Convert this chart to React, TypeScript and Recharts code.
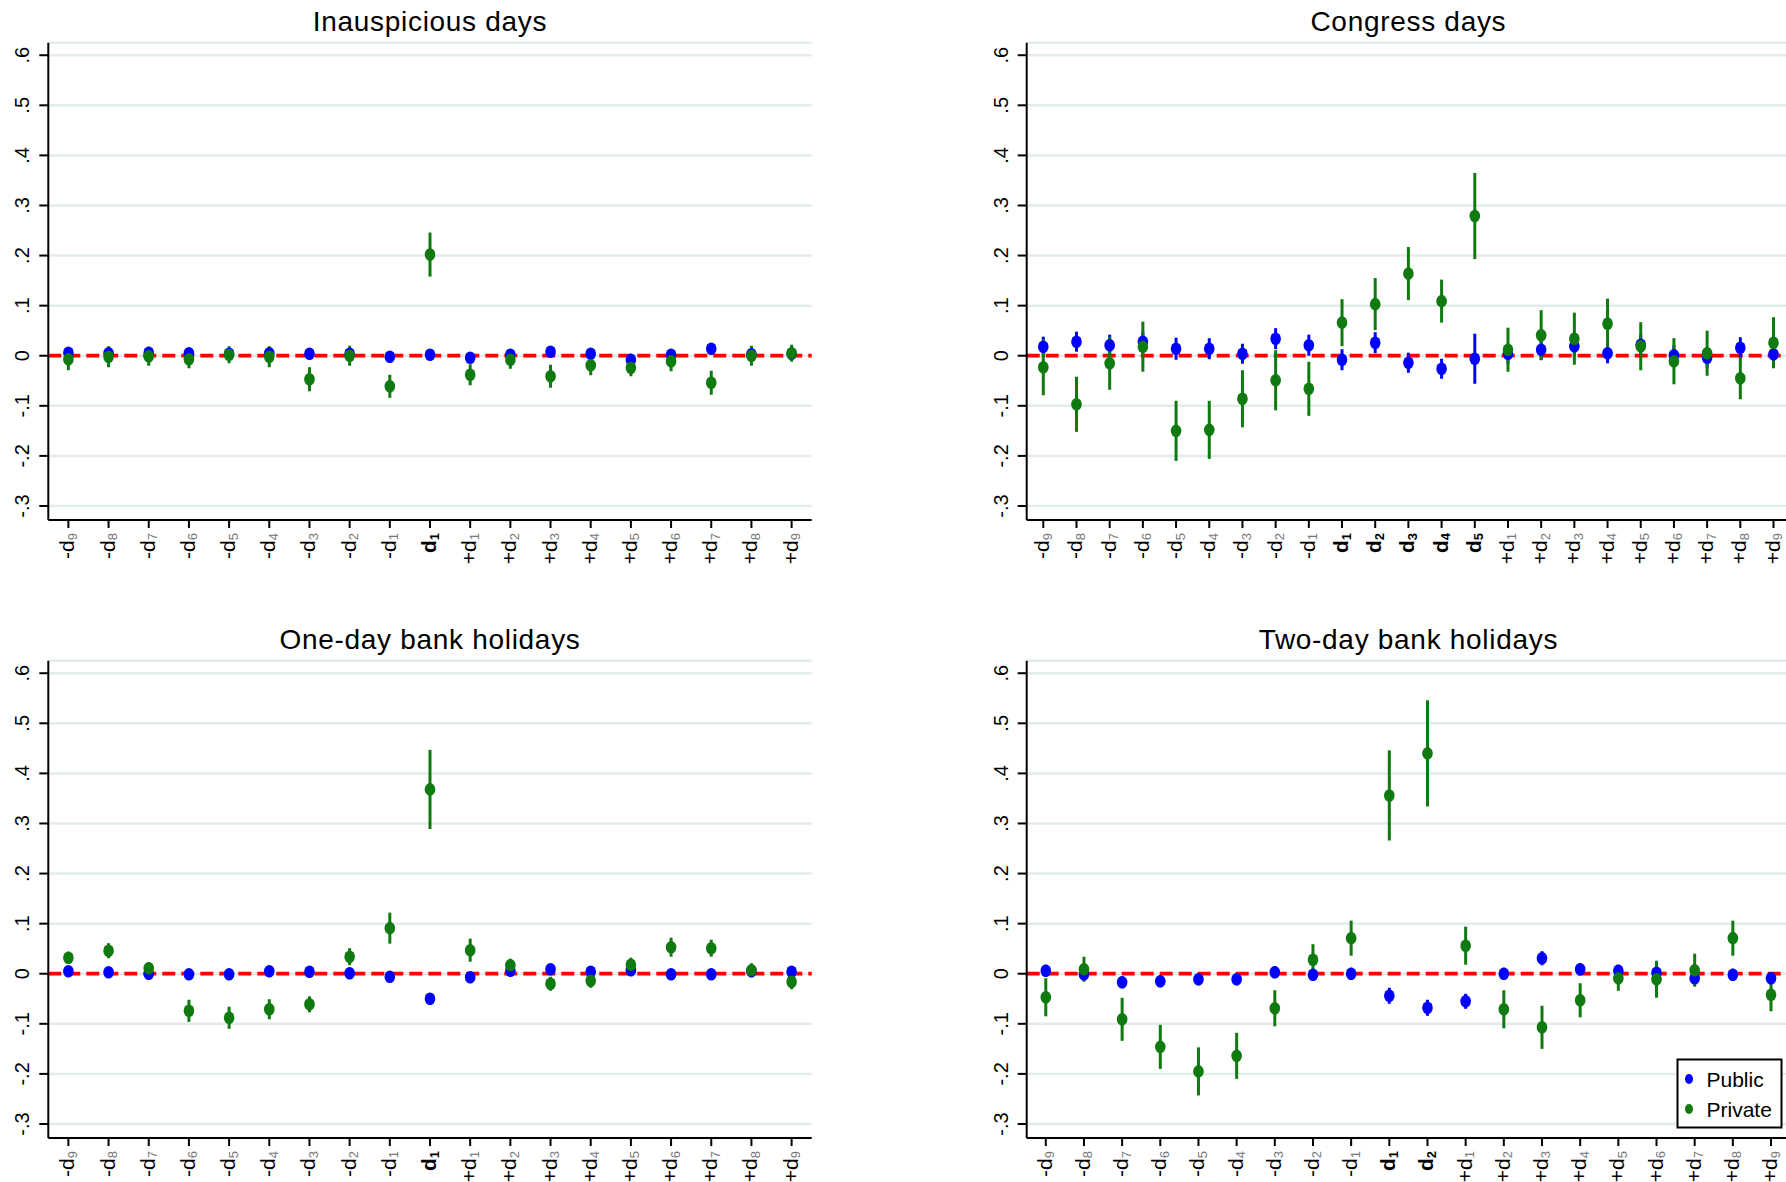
import React from 'react';
import { ScatterChart, Scatter, XAxis, YAxis, CartesianGrid, ReferenceLine, ErrorBar } from 'recharts';

// Day labels around each event window
const preDays = ['-d9', '-d8', '-d7', '-d6', '-d5', '-d4', '-d3', '-d2', '-d1'];
const postDays = ['+d1', '+d2', '+d3', '+d4', '+d5', '+d6', '+d7', '+d8', '+d9'];
const inauspiciousLabels = [...preDays, 'd1', ...postDays];
const congressLabels = [...preDays, 'd1', 'd2', 'd3', 'd4', 'd5', ...postDays];
const oneDayLabels = [...preDays, 'd1', ...postDays];
const twoDayLabels = [...preDays, 'd1', 'd2', ...postDays];

const yTicks = [-0.3, -0.2, -0.1, 0, 0.1, 0.2, 0.3, 0.4, 0.5, 0.6];
const yTickLabels = ['-.3', '-.2', '-.1', '0', '.1', '.2', '.3', '.4', '.5', '.6'];

// Inauspicious days
const inauspiciousPublic = [0.006, 0.005, 0.006, 0.005, 0.004, 0.005, 0.004, 0.004, -0.002, 0.002, -0.004, 0.002, 0.008, 0.004, -0.008, 0.002, 0.014, 0.003, 0.004];
const inauspiciousPublicCI = [0.007, 0.006, 0.006, 0.006, 0.006, 0.007, 0.006, 0.006, 0.006, 0.005, 0.006, 0.006, 0.006, 0.006, 0.006, 0.006, 0.006, 0.006, 0.007];
const inauspiciousPrivate = [-0.007, -0.002, -0.001, -0.007, 0.002, -0.002, -0.047, 0.0, -0.061, 0.202, -0.038, -0.008, -0.041, -0.019, -0.024, -0.011, -0.054, 0.0, 0.005];
const inauspiciousPrivateCI = [0.022, 0.021, 0.019, 0.018, 0.017, 0.021, 0.024, 0.02, 0.023, 0.044, 0.021, 0.018, 0.023, 0.02, 0.017, 0.02, 0.024, 0.02, 0.017];

// Congress days
const congressPublic = [0.018, 0.028, 0.021, 0.028, 0.014, 0.014, 0.004, 0.034, 0.021, -0.008, 0.026, -0.014, -0.026, -0.006, 0.004, 0.012, 0.019, 0.005, 0.022, 0.001, -0.004, 0.016, 0.003];
const congressPublicCI = [0.02, 0.02, 0.021, 0.02, 0.022, 0.021, 0.02, 0.021, 0.021, 0.021, 0.021, 0.02, 0.02, 0.05, 0.02, 0.02, 0.02, 0.02, 0.02, 0.02, 0.02, 0.021, 0.02];
const congressPrivate = [-0.023, -0.097, -0.015, 0.018, -0.15, -0.148, -0.086, -0.049, -0.066, 0.066, 0.103, 0.164, 0.109, 0.279, 0.012, 0.041, 0.034, 0.064, 0.019, -0.011, 0.005, -0.045, 0.026];
const congressPrivateCI = [0.056, 0.055, 0.053, 0.05, 0.06, 0.058, 0.057, 0.06, 0.054, 0.047, 0.052, 0.053, 0.043, 0.086, 0.044, 0.05, 0.052, 0.05, 0.048, 0.046, 0.045, 0.042, 0.051];

// One-day bank holidays
const oneDayPublic = [0.005, 0.003, 0.0, -0.001, -0.001, 0.005, 0.004, 0.001, -0.006, -0.05, -0.007, 0.006, 0.009, 0.004, 0.007, -0.001, -0.001, 0.005, 0.004];
const oneDayPublicCI = [0.005, 0.005, 0.005, 0.005, 0.005, 0.005, 0.005, 0.005, 0.005, 0.006, 0.005, 0.005, 0.005, 0.005, 0.005, 0.005, 0.005, 0.005, 0.005];
const oneDayPrivate = [0.032, 0.046, 0.011, -0.074, -0.088, -0.071, -0.061, 0.034, 0.091, 0.368, 0.047, 0.017, -0.02, -0.014, 0.018, 0.053, 0.051, 0.007, -0.016];
const oneDayPrivateCI = [0.012, 0.015, 0.012, 0.022, 0.022, 0.02, 0.016, 0.017, 0.031, 0.079, 0.023, 0.013, 0.014, 0.014, 0.014, 0.019, 0.017, 0.014, 0.015];

// Two-day bank holidays
const twoDayPublic = [0.006, -0.001, -0.017, -0.015, -0.011, -0.011, 0.003, -0.002, 0.0, -0.044, -0.068, -0.055, 0.0, 0.031, 0.009, 0.006, 0.002, -0.009, -0.002, -0.009];
const twoDayPublicCI = [0.012, 0.012, 0.012, 0.012, 0.012, 0.012, 0.012, 0.012, 0.012, 0.016, 0.016, 0.015, 0.012, 0.014, 0.012, 0.012, 0.012, 0.012, 0.012, 0.012];
const twoDayPrivate = [-0.047, 0.009, -0.091, -0.146, -0.195, -0.164, -0.069, 0.028, 0.071, 0.356, 0.44, 0.056, -0.071, -0.107, -0.053, -0.009, -0.011, 0.007, 0.071, -0.042];
const twoDayPrivateCI = [0.038, 0.025, 0.043, 0.044, 0.048, 0.046, 0.036, 0.031, 0.035, 0.09, 0.106, 0.038, 0.038, 0.043, 0.034, 0.025, 0.037, 0.033, 0.035, 0.033];

const FONT = '"Liberation Sans", Arial, Helvetica, sans-serif';
const BLUE = '#0000ff';
const GREEN = '#0f7a0f';
const RED = '#ff0000';
const GRID = '#e3ebeb';

const toPoints = (vals: number[], ci: number[]) => vals.map((v, i) => ({ x: i, y: v, e: ci[i] }));

const makeDot = (color: string) => (p: any) => (
  <ellipse cx={p.cx} cy={p.cy} rx={5.3} ry={6.3} fill={color} />
);

// Rotated day label: sign, "d" and a subscript day number; event days in bold
const XTick = (props: any) => {
  const { x, y, payload, labels } = props;
  const lab: string = labels[payload.value] ?? '';
  const m = /^([+-]?)d(\d)$/.exec(lab);
  if (!m) return null;
  const sign = m[1];
  const num = m[2];
  const bold = sign === '';
  return (
    <g transform={`translate(${x},${y})`}>
      <text
        transform="rotate(-90)"
        x={-5}
        y={6}
        textAnchor="end"
        fontFamily={FONT}
        fontSize={21}
        fontWeight={bold ? 'bold' : 'normal'}
        fill="#000"
      >
        {sign}d
        <tspan fontSize={13} dy={2.5} fill={bold ? '#000' : '#777'}>{num}</tspan>
      </text>
    </g>
  );
};

const YTick = (props: any) => {
  const { x, y, payload } = props;
  const idx = yTicks.findIndex((t) => Math.abs(t - payload.value) < 1e-9);
  return (
    <text
      transform={`translate(${x - 10},${y}) rotate(-90)`}
      textAnchor="middle"
      fontFamily={FONT}
      fontSize={20}
      fill="#000"
    >
      {idx >= 0 ? yTickLabels[idx] : ''}
    </text>
  );
};

type PanelProps = {
  title: string;
  labels: string[];
  pub: number[];
  pubCI: number[];
  priv: number[];
  privCI: number[];
  left: number;
  top: number;
  plotLeft: number;
};

const CHART_W = 830;
const CHART_H = 600;
const PLOT_TOP = 42.7;
const PLOT_BOTTOM = 520;
const PLOT_W = 763.4;

const Panel = ({ title, labels, pub, pubCI, priv, privCI, left, top, plotLeft }: PanelProps) => {
  const n = labels.length;
  const idx = labels.map((_, i) => i);
  const axisStyle = { stroke: '#000', strokeWidth: 2 };
  return (
    <div style={{ position: 'absolute', left, top, width: CHART_W, height: CHART_H }}>
      <div
        style={{
          position: 'absolute',
          left: plotLeft + PLOT_W / 2 - 300,
          top: 8,
          width: 600,
          textAlign: 'center',
          fontFamily: FONT,
          fontSize: 28,
          lineHeight: '28px',
          letterSpacing: '0.7px',
          color: '#000',
          whiteSpace: 'nowrap',
        }}
      >
        {title}
      </div>
      <ScatterChart
        width={CHART_W}
        height={CHART_H}
        margin={{ top: PLOT_TOP, left: 0, right: CHART_W - plotLeft - PLOT_W, bottom: 0 }}
      >
        <CartesianGrid horizontal vertical={false} stroke={GRID} strokeWidth={2.5} />
        <XAxis
          type="number"
          dataKey="x"
          domain={[-0.5, n - 0.5]}
          ticks={idx}
          interval={0}
          height={CHART_H - PLOT_BOTTOM}
          tickSize={8}
          tickMargin={0}
          axisLine={axisStyle}
          tickLine={axisStyle}
          tick={(p: any) => <XTick {...p} labels={labels} />}
          allowDataOverflow
        />
        <YAxis
          type="number"
          dataKey="y"
          domain={[-0.328, 0.625]}
          ticks={yTicks}
          interval={0}
          width={plotLeft}
          tickSize={9}
          tickMargin={0}
          axisLine={axisStyle}
          tickLine={axisStyle}
          tick={(p: any) => <YTick {...p} />}
          allowDataOverflow
        />
        <ReferenceLine y={0} stroke={RED} strokeWidth={3.8} strokeDasharray="13 6" />
        <Scatter name="Public" data={toPoints(pub, pubCI)} fill={BLUE} shape={makeDot(BLUE)} isAnimationActive={false}>
          <ErrorBar dataKey="e" direction="y" width={0} stroke={BLUE} strokeWidth={3} />
        </Scatter>
        <Scatter name="Private" data={toPoints(priv, privCI)} fill={GREEN} shape={makeDot(GREEN)} isAnimationActive={false}>
          <ErrorBar dataKey="e" direction="y" width={0} stroke={GREEN} strokeWidth={3} />
        </Scatter>
      </ScatterChart>
    </div>
  );
};

const LegendBox = () => (
  <svg style={{ position: 'absolute', left: 1676, top: 1058 }} width={108} height={72}>
    <rect x={1.5} y={1.5} width={104} height={68} fill="#fff" stroke="#000" strokeWidth={2} />
    <ellipse cx={13} cy={21} rx={4} ry={5} fill={BLUE} />
    <text x={30.5} y={28.7} fontFamily={FONT} fontSize={21} fill="#000">Public</text>
    <ellipse cx={13} cy={51} rx={4} ry={5} fill={GREEN} />
    <text x={30.5} y={59.3} fontFamily={FONT} fontSize={21} fill="#000">Private</text>
  </svg>
);

export default function App() {
  return (
    <div
      style={{
        position: 'absolute',
        left: 0,
        top: 0,
        width: 1786,
        height: 1182,
        overflow: 'hidden',
        background: '#fff',
      }}
    >
      <Panel
        title="Inauspicious days"
        labels={inauspiciousLabels}
        pub={inauspiciousPublic}
        pubCI={inauspiciousPublicCI}
        priv={inauspiciousPrivate}
        privCI={inauspiciousPrivateCI}
        left={0}
        top={0}
        plotLeft={48.3}
      />
      <Panel
        title="Congress days"
        labels={congressLabels}
        pub={congressPublic}
        pubCI={congressPublicCI}
        priv={congressPrivate}
        privCI={congressPrivateCI}
        left={980}
        top={0}
        plotLeft={46.7}
      />
      <Panel
        title="One-day bank holidays"
        labels={oneDayLabels}
        pub={oneDayPublic}
        pubCI={oneDayPublicCI}
        priv={oneDayPrivate}
        privCI={oneDayPrivateCI}
        left={0}
        top={618}
        plotLeft={48.3}
      />
      <Panel
        title="Two-day bank holidays"
        labels={twoDayLabels}
        pub={twoDayPublic}
        pubCI={twoDayPublicCI}
        priv={twoDayPrivate}
        privCI={twoDayPrivateCI}
        left={980}
        top={618}
        plotLeft={46.7}
      />
      <LegendBox />
    </div>
  );
}
